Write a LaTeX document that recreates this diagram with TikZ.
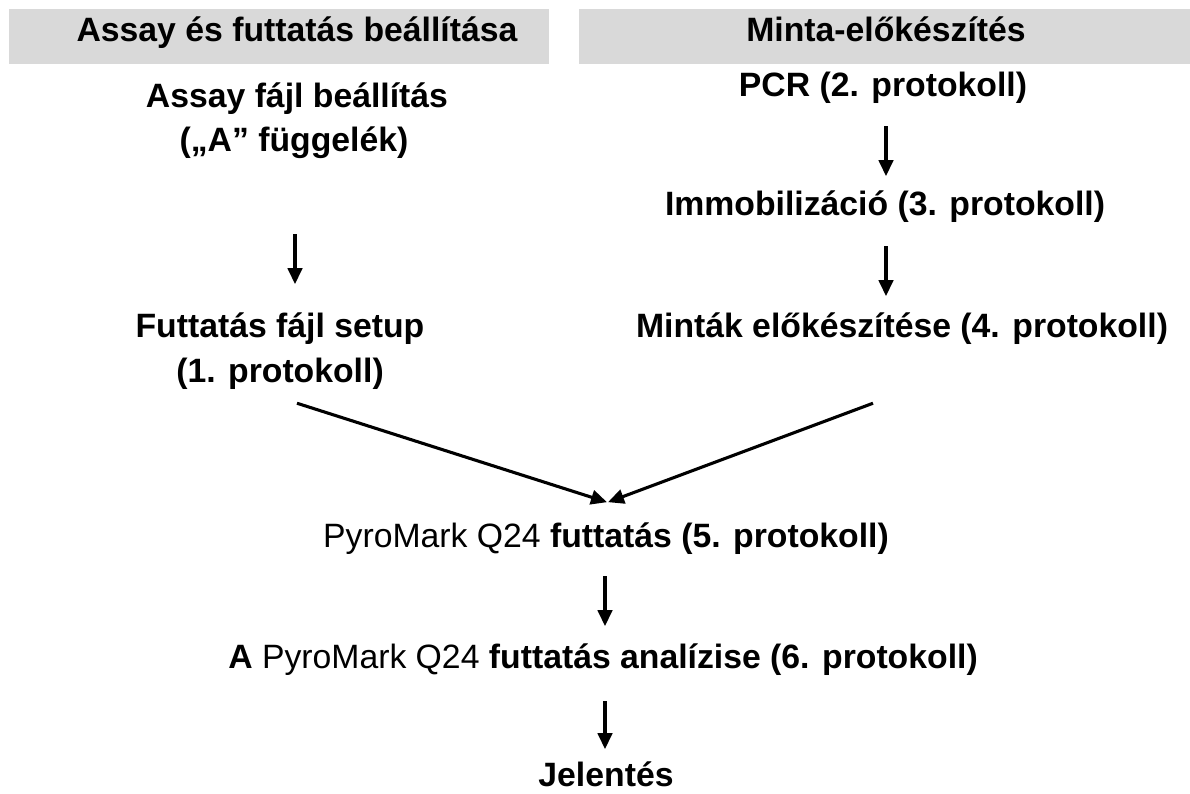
\documentclass[tikz,border=0pt]{standalone}
\usepackage{fontspec}
\setmainfont{Liberation Sans}
\usepackage{xcolor}
\usepackage{tikz}
\usetikzlibrary{arrows.meta, calc}

\definecolor{headgray}{RGB}{217,217,217}

\begin{document}
\begin{tikzpicture}[
  x=0.025cm, y=-0.025cm,
  steptext/.style={
    anchor=base,
    inner sep=0pt,
    text height=0.75em,
    text depth=0.21em,
    font=\fontsize{24}{28}\selectfont\bfseries
  },
  connection/.style={
    -{Triangle[length=0.4cm, width=0.36cm]},
    line width=2.2pt,
    draw=black
  }
]
\useasboundingbox (0,0) rectangle (1190,794);

% Header bars
\fill[headgray] (9,9) rectangle (549,64);
\fill[headgray] (579,9) rectangle (1190,64);
\node[steptext] (hleft) at (297,42) {Assay és futtatás beállítása};
\node[steptext] (hright) at (886,42) {Minta-előkészítés};

% Left column
\node[steptext] (assay) at (297,108) {Assay fájl beállítás};
\node[steptext] (assay2) at (294,152) {(„A” függelék)};
\node[steptext] (futt) at (280,337) {Futtatás fájl setup};
\node[steptext] (futt2) at (280,382) {(1. protokoll)};

% Right column
\node[steptext] (pcr) at (883,97) {PCR (2. protokoll)};
\node[steptext] (immo) at (885,215) {Immobilizáció (3. protokoll)};
\node[steptext] (mintak) at (902,337) {Minták előkészítése (4. protokoll)};

% Common part
\node[steptext] (pyro) at (606,547) {{\mdseries PyroMark Q24} futtatás (5. protokoll)};
\node[steptext] (anal) at (603,668) {A {\mdseries PyroMark Q24} futtatás analízise (6. protokoll)};
\node[steptext] (jel) at (606,786) {Jelentés};

% Arrows
\draw[connection] ($(assay2.south)+(1,79)$) -- ($(futt.north)+(15,-42)$);
\draw[connection] ($(pcr.south)+(3,26)$) -- ($(immo.north)+(1,-28)$);
\draw[connection] ($(immo.south)+(1,28)$) -- ($(mintak.north)+(-16,-30)$);

\draw[connection] ($(futt2.south)+(17,18)$) -- ($(pyro.north)+(1,-34)$);
\draw[connection] ($(mintak.south)+(-29,63)$) -- ($(pyro.north)+(2,-34)$);

\draw[connection] ($(pyro.south)+(-1,26)$) -- ($(anal.north)+(2,-31)$);
\draw[connection] ($(anal.south)+(2,30)$) -- ($(jel.north)+(-1,-26)$);

\end{tikzpicture}
\end{document}
